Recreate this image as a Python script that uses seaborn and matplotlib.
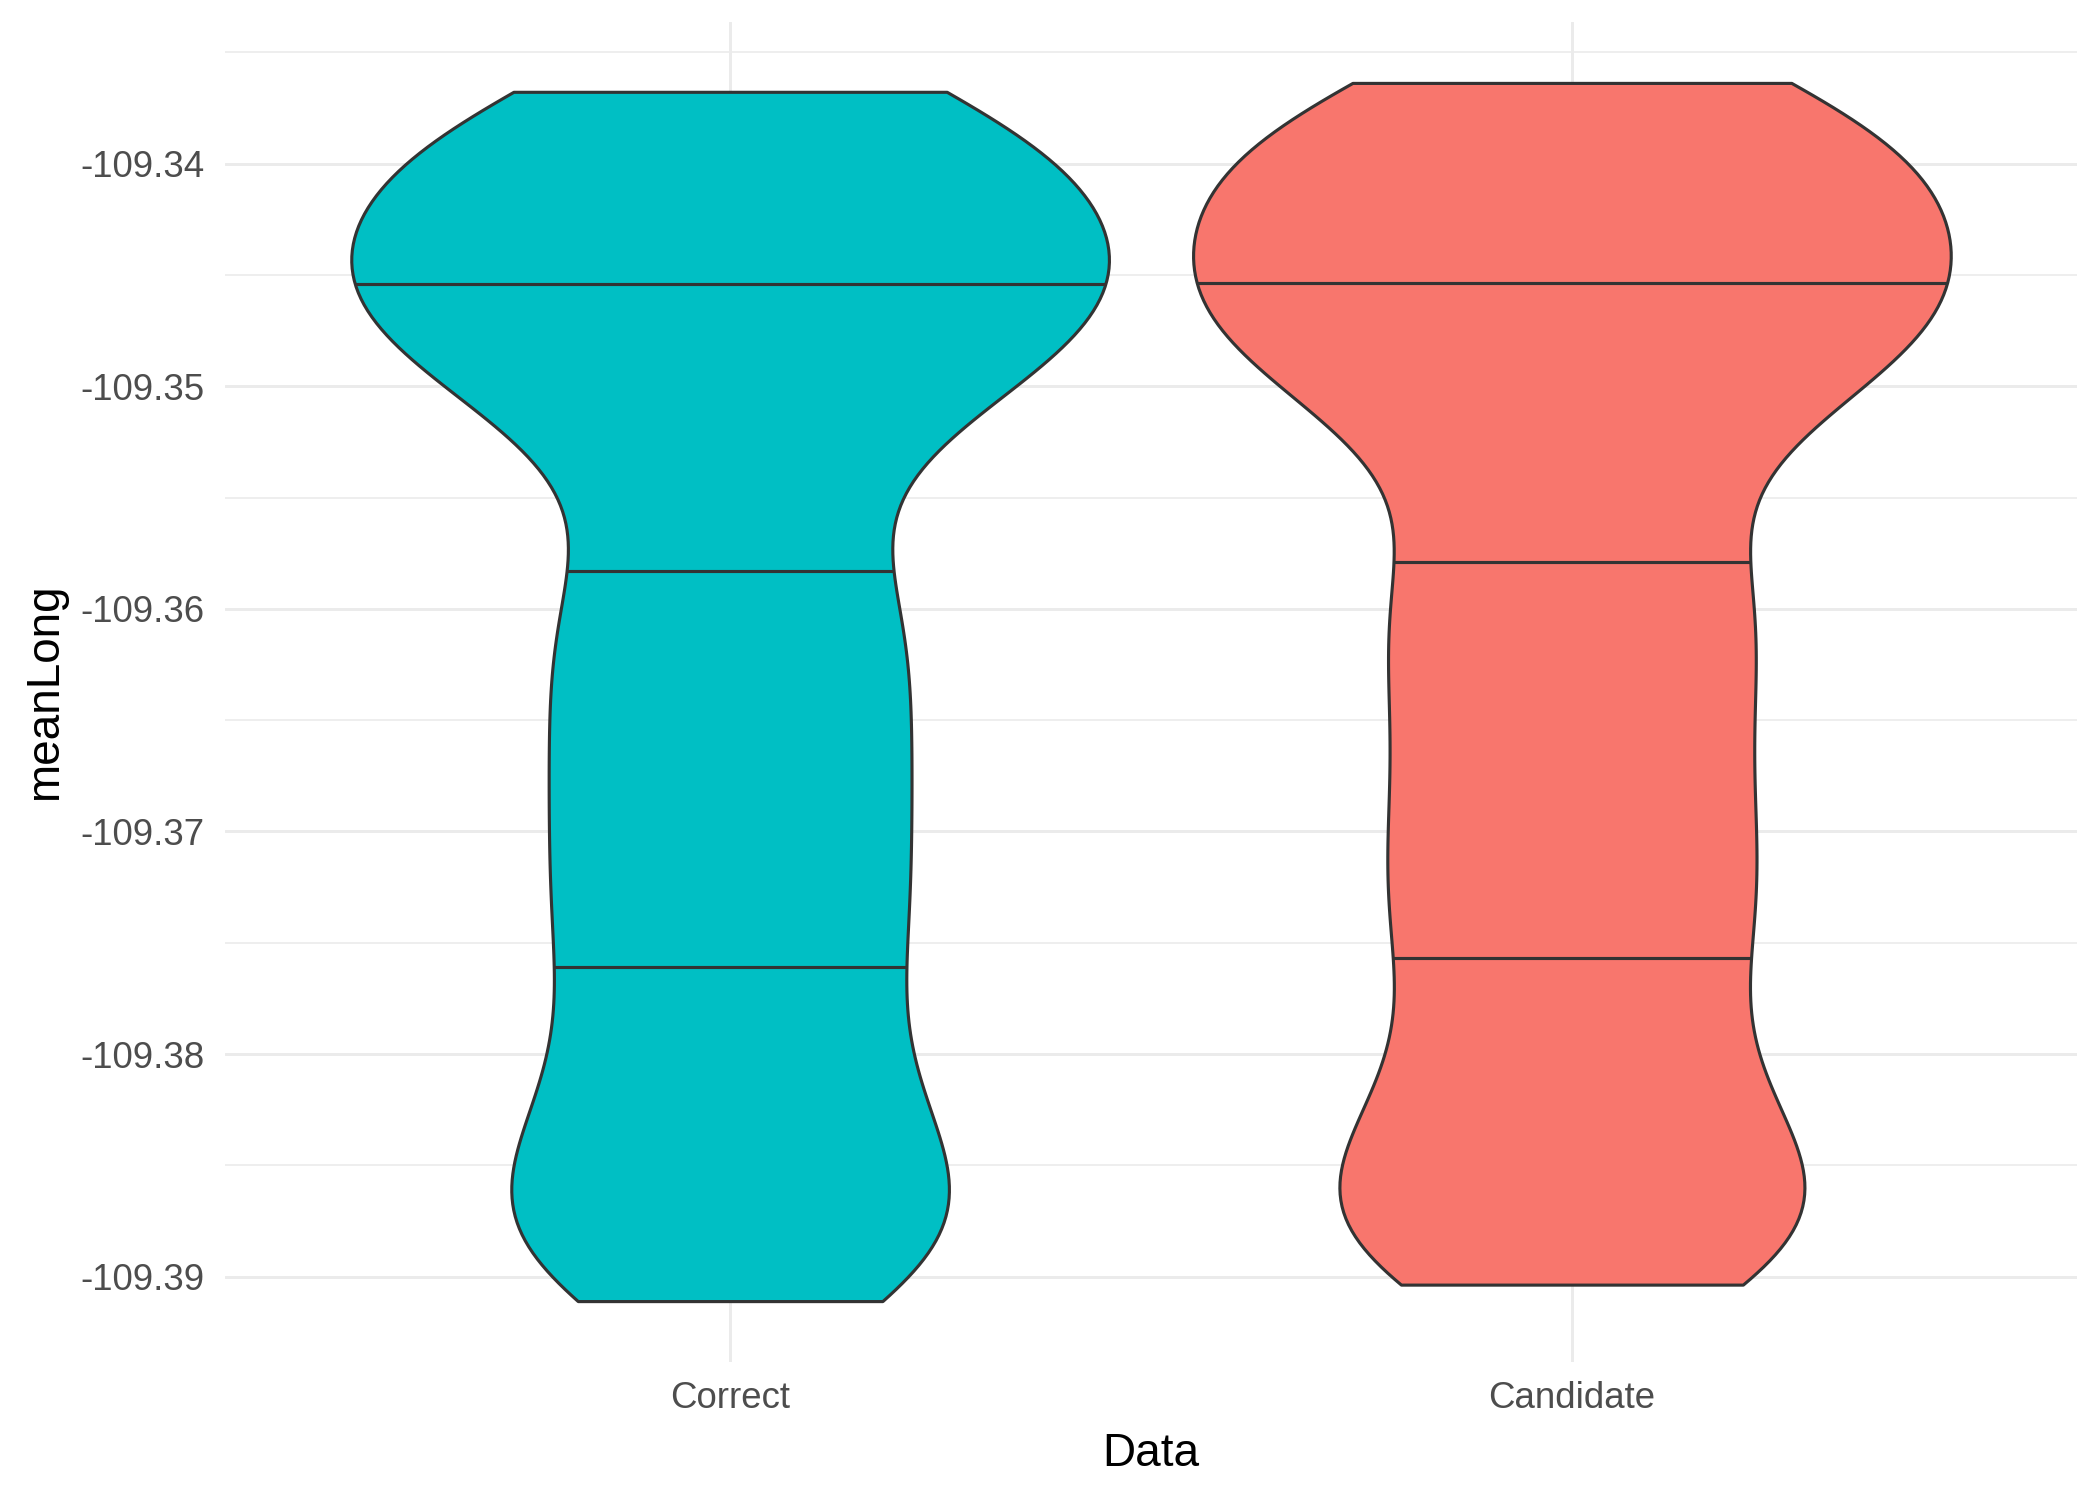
import numpy as np
import pandas as pd
import seaborn as sns
import matplotlib.pyplot as plt
from matplotlib.ticker import MultipleLocator, FormatStrFormatter

# meanLong values (quartiles and outline shape)
correct = [
    -109.33677, -109.3369, -109.3376, -109.3384, -109.3392, -109.3399, -109.3406,
    -109.3413, -109.3419, -109.3425, -109.3431, -109.3437, -109.3445,
    -109.3457, -109.3460, -109.3464, -109.3468, -109.3473, -109.3479, -109.3486,
    -109.3494, -109.3503, -109.3514, -109.3528, -109.3550, -109.3578,
    -109.3588, -109.3602, -109.3616, -109.3630, -109.3645, -109.3659, -109.3673,
    -109.3687, -109.3701, -109.3716, -109.3730, -109.3744, -109.3758,
    -109.3770, -109.3790, -109.3806, -109.3820, -109.3833, -109.3845, -109.3856,
    -109.3867, -109.3877, -109.3886, -109.3895, -109.3905, -109.3911,
]
candidate = [
    -109.33637, -109.3366, -109.3373, -109.3381, -109.3389, -109.3396, -109.3403,
    -109.3409, -109.3415, -109.3421, -109.3427, -109.3434, -109.3444,
    -109.3457, -109.3460, -109.3464, -109.3468, -109.3473, -109.3479, -109.3486,
    -109.3494, -109.3503, -109.3514, -109.3528, -109.3550, -109.3575,
    -109.3583, -109.3596, -109.3610, -109.3624, -109.3639, -109.3654, -109.3669,
    -109.3684, -109.3699, -109.3713, -109.3727, -109.3740, -109.3754,
    -109.3766, -109.3788, -109.3805, -109.3819, -109.3832, -109.3844, -109.3855,
    -109.3865, -109.3874, -109.3883, -109.3891, -109.3899, -109.39036,
]
groups = ["Correct", "Candidate"]
colors = {"Correct": "#00BFC4", "Candidate": "#F8766D"}
yticks = [-109.39, -109.38, -109.37, -109.36, -109.35, -109.34]

df = pd.DataFrame({
    "Data": ["Correct"] * len(correct) + ["Candidate"] * len(candidate),
    "meanLong": correct + candidate,
})

sns.set_theme(style="white")
plt.rcParams["font.family"] = ["Liberation Sans", "DejaVu Sans"]
plt.rcParams["axes.unicode_minus"] = False

fig = plt.figure(figsize=(7, 1499 / 300), dpi=300)
ax = fig.add_axes([225 / 2100, 1 - 1362 / 1499, (2077 - 225) / 2100, (1362 - 22) / 1499])

sns.violinplot(data=df, x="Data", y="meanLong", hue="Data", order=groups,
               hue_order=groups, palette=colors, legend=False, cut=0,
               inner=None, bw_method=0.22, gridsize=200, width=0.9,
               saturation=1, linecolor="#333333", linewidth=0.75, ax=ax)

# quartile lines like ggplot's draw_quantiles, clipped to the violin outline
for coll in ax.collections:
    v = coll.get_paths()[0].vertices
    i = int(round(v[:, 0].mean()))
    vals = [correct, candidate][i]
    right = v[v[:, 0] > i + 1e-9]
    right = right[np.argsort(right[:, 1])]
    qs = np.percentile(vals, [25, 50, 75])
    hw = np.interp(qs, right[:, 1], right[:, 0]) - i
    ax.hlines(qs, i - hw, i + hw, colors="#333333", linewidth=0.75, zorder=3)

lo, hi = min(correct + candidate), max(correct + candidate)
pad = 0.05 * (hi - lo)
ax.set_ylim(lo - pad, hi + pad)
ax.set_xlim(-0.6, 1.6)
ax.set_yticks(yticks)
ax.yaxis.set_minor_locator(MultipleLocator(0.005))
ax.yaxis.set_major_formatter(FormatStrFormatter("%.2f"))

ax.set_axisbelow(True)
ax.grid(which="major", color="#EBEBEB", linewidth=0.72)
ax.grid(which="minor", axis="y", color="#EBEBEB", linewidth=0.4)
for s in ax.spines.values():
    s.set_visible(False)
ax.tick_params(which="both", length=0)
ax.tick_params(axis="y", pad=5, labelsize=8.8, labelcolor="#4D4D4D")
ax.tick_params(axis="x", pad=4.5, labelsize=8.8, labelcolor="#4D4D4D")
ax.set_xlabel("Data", fontsize=11, color="black", labelpad=4)
ax.set_ylabel("meanLong", fontsize=11, color="black", labelpad=3)

fig.savefig("out.png", dpi=300)
